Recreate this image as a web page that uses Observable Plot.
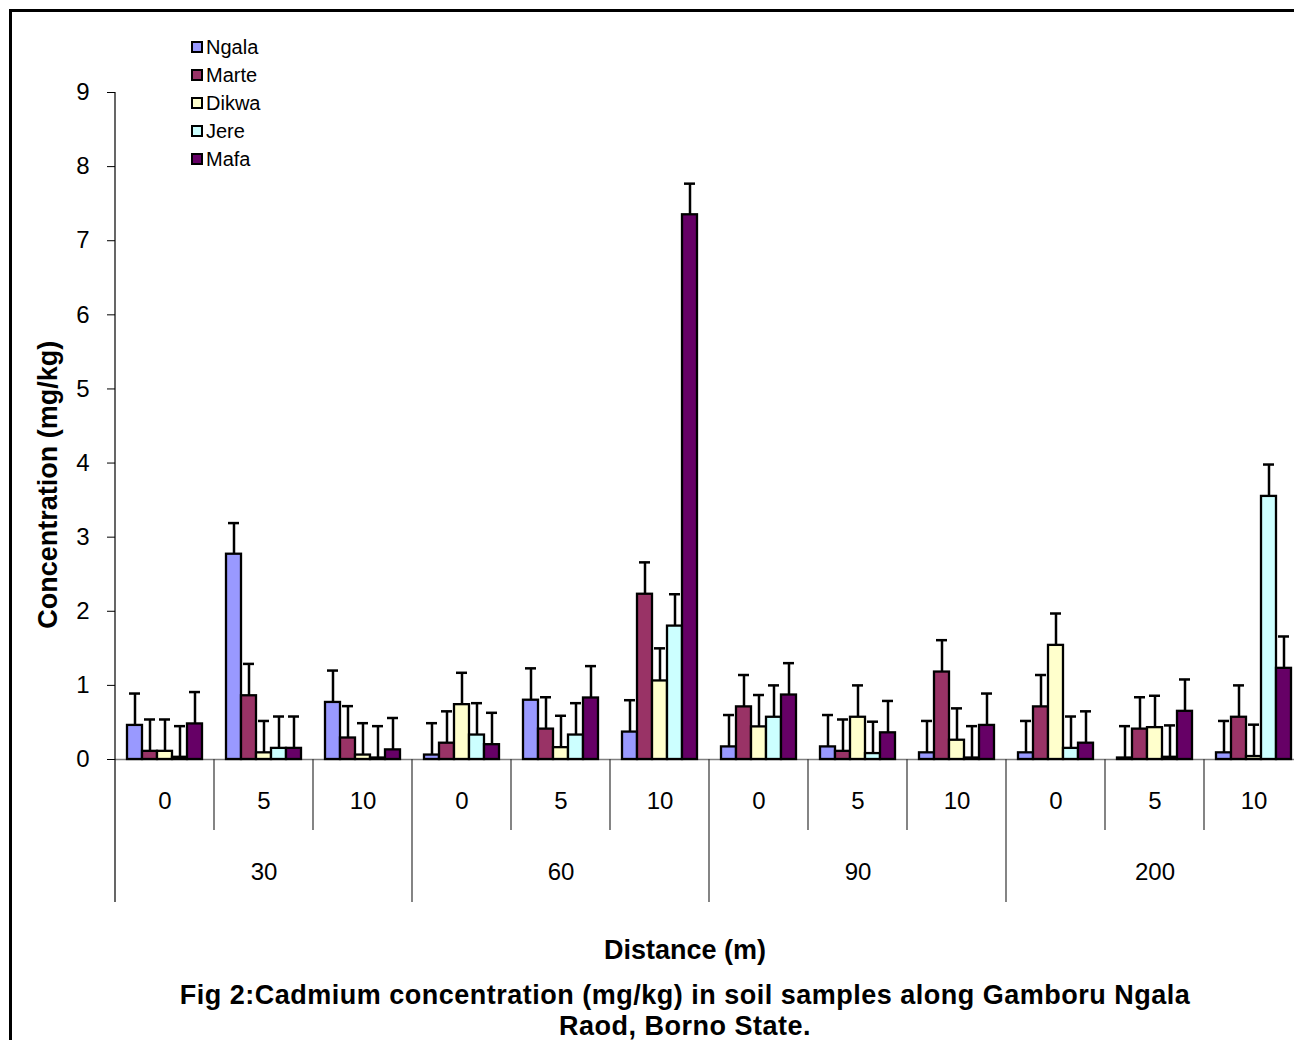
<!DOCTYPE html>
<html><head><meta charset="utf-8">
<script src="https://cdn.jsdelivr.net/npm/d3@7"></script>
<script src="https://cdn.jsdelivr.net/npm/@observablehq/plot@0.6"></script>
<style>
html,body{margin:0;padding:0;background:#fff;overflow:hidden;width:1294px;height:1040px;}
#wrap{position:relative;width:1294px;height:1040px;overflow:hidden;font-family:"Liberation Sans",Arial,sans-serif;color:#000;}
#border{position:absolute;left:9px;top:9px;width:1400px;height:1100px;border:3px solid #000;box-sizing:border-box;}
#chart{position:absolute;left:0;top:0;width:1310px;}
#chart svg{max-width:none !important;}
#legend{position:absolute;left:191px;top:33px;font-size:20px;line-height:28px;}
.item{display:flex;align-items:center;height:28px;}
.sw{width:8px;height:8px;border:2px solid #000;margin-right:3px;}
#xtitle{position:absolute;left:0;width:1370px;text-align:center;top:935px;font-weight:bold;font-size:27px;}
#caption{position:absolute;left:0;width:1370px;text-align:center;top:980px;font-weight:bold;font-size:27px;line-height:31px;letter-spacing:0.5px;}
svg text{font-family:"Liberation Sans",Arial,sans-serif;}
</style>
</head><body>
<div id="wrap">
  <div id="border"></div>
  <div id="chart"></div>
  <div id="legend"></div>
  <div id="xtitle">Distance (m)</div>
  <div id="caption">Fig 2:Cadmium concentration (mg/kg) in soil samples along Gamboru Ngala<br>Raod, Borno State.</div>
</div>
<script>
// ---- data ----
const distances = ["30", "60", "90", "200"];
const subDistances = ["0", "5", "10"];
const series = ["Ngala", "Marte", "Dikwa", "Jere", "Mafa"];
const colors = ["#9999FF", "#993366", "#FFFFCC", "#CCFFFF", "#660066"];
const yTicks = [0, 1, 2, 3, 4, 5, 6, 7, 8, 9];
const yTitle = "Concentration (mg/kg)";
// values in order 30/0,30/5,30/10,60/0,60/5,60/10,90/0,90/5,90/10,200/0,200/5,200/10
const ngala = [0.46, 2.77, 0.77, 0.06, 0.80, 0.37, 0.17, 0.17, 0.09, 0.09, 0.02, 0.09];
const marte = [0.11, 0.86, 0.29, 0.22, 0.41, 2.23, 0.71, 0.11, 1.18, 0.71, 0.41, 0.57];
const dikwa = [0.11, 0.09, 0.06, 0.74, 0.16, 1.06, 0.44, 0.57, 0.26, 1.54, 0.43, 0.04];
const jere  = [0.03, 0.15, 0.02, 0.33, 0.33, 1.80, 0.57, 0.08, 0.02, 0.15, 0.03, 3.55];
const mafa  = [0.48, 0.15, 0.13, 0.20, 0.83, 7.35, 0.87, 0.36, 0.46, 0.22, 0.65, 1.23];
const errNgala = [0.43, 0.42, 0.43, 0.43, 0.43, 0.43, 0.43, 0.43, 0.43, 0.43, 0.43, 0.43];
const errMarte = [0.43, 0.43, 0.43, 0.43, 0.43, 0.43, 0.43, 0.43, 0.43, 0.43, 0.43, 0.43];
const errDikwa = [0.43, 0.43, 0.43, 0.43, 0.43, 0.44, 0.43, 0.43, 0.43, 0.43, 0.43, 0.43];
const errJere  = [0.42, 0.43, 0.43, 0.43, 0.43, 0.43, 0.43, 0.43, 0.43, 0.43, 0.43, 0.43];
const errMafa  = [0.43, 0.43, 0.43, 0.43, 0.43, 0.42, 0.43, 0.43, 0.43, 0.43, 0.43, 0.43];

const values = [ngala, marte, dikwa, jere, mafa];
const errors = [errNgala, errMarte, errDikwa, errJere, errMafa];
const keys = [];
distances.forEach(d => subDistances.forEach(s => keys.push(d + "|" + s)));
const rows = [];
keys.forEach((k, i) => series.forEach((s, j) => rows.push({key: k, series: s, value: values[j][i], err: errors[j][i]})));
const groupLabels = distances.map(d => ({key: d + "|" + subDistances[1], label: d}));

const plot = Plot.plot({
  width: 1308, height: 910,
  marginLeft: 114, marginRight: 5, marginTop: 92, marginBottom: 151,
  style: {fontFamily: "Liberation Sans, Arial, sans-serif", fontSize: "24px", background: "transparent", overflow: "visible", maxWidth: "none"},
  fx: {domain: keys, padding: 0, tickSize: 0, tickPadding: 32, tickFormat: k => k.split("|")[1], label: null},
  x: {domain: series, paddingInner: 0, paddingOuter: 0.74, axis: null},
  y: {domain: [0, 9], ticks: yTicks, tickSize: 8, tickPadding: 18, label: null},
  color: {domain: series, range: colors},
  marks: [
    Plot.ruleY([0], {stroke: "#808080", strokeWidth: 1.5}),
    Plot.barY(rows, {fx: "key", x: "series", y: "value", fill: "series", stroke: "#000", strokeWidth: 2.3}),
    Plot.ruleX(rows, {fx: "key", x: "series", y1: "value", y2: d => d.value + d.err, stroke: "#000", strokeWidth: 2.5}),
    Plot.tickY(rows, {fx: "key", x: "series", y: d => d.value + d.err, stroke: "#000", strokeWidth: 2.5, insetLeft: 2, insetRight: 2}),
    Plot.text(groupLabels, {fx: "key", text: "label", frameAnchor: "bottom", dy: 120, fontSize: 24})
  ]
});
document.getElementById("chart").appendChild(plot);

// category separators, axis line and axis title drawn with the plot's own scales
const fxS = plot.scale("fx"), yS = plot.scale("y");
const y0 = yS.apply(0), yTop = yS.apply(9);
const svg = d3.select(plot);
const g = svg.append("g");
g.append("line").attr("x1", fxS.apply(keys[0])).attr("x2", fxS.apply(keys[0]))
  .attr("y1", yTop).attr("y2", y0 + 143).attr("stroke", "#000").attr("stroke-width", 1.2);
keys.forEach((k, i) => {
  if (i === 0) return;
  const x = fxS.apply(k);
  const long = k.endsWith("|0");
  g.append("line").attr("x1", x).attr("x2", x).attr("y1", y0).attr("y2", y0 + (long ? 143 : 71))
    .attr("stroke", "#333").attr("stroke-width", 1.2);
});
g.append("text").text(yTitle)
  .attr("transform", `translate(48,${yS.apply(3.7)}) rotate(-90)`)
  .attr("text-anchor", "middle").attr("dy", "0.35em")
  .attr("font-weight", "bold").attr("font-size", 27).attr("fill", "#000");

// legend
const leg = d3.select("#legend");
series.forEach((s, i) => {
  const it = leg.append("div").attr("class", "item");
  it.append("div").attr("class", "sw").style("background", colors[i]);
  it.append("span").text(s);
});
</script>
</body></html>
